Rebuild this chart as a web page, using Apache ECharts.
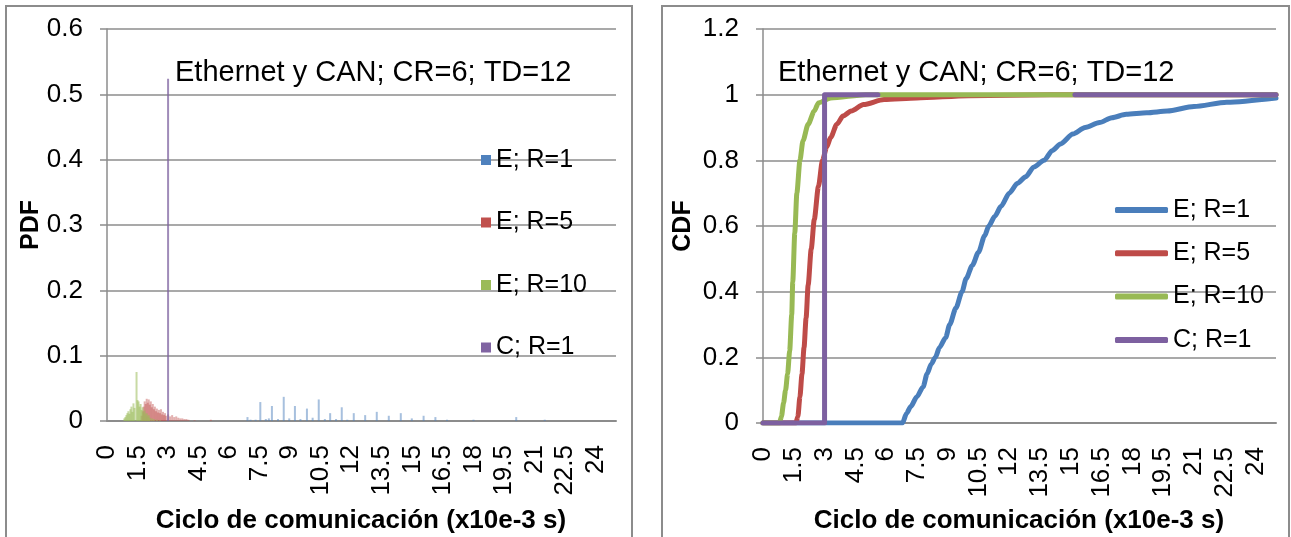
<!DOCTYPE html>
<html>
<head>
<meta charset="utf-8">
<script src="https://cdn.jsdelivr.net/npm/echarts@6/dist/echarts.min.js"></script>
<style>
  html, body { margin: 0; padding: 0; background: #ffffff; }
  #chart { width: 1291px; height: 537px; }
</style>
</head>
<body>
<div id="chart"></div>
<script>
// Series names shared by both panels
const seriesNames = ['E; R=1', 'E; R=5', 'E; R=10', 'C; R=1'];

// Communication-cycle axis (x10e-3 s)
const xMin = 0;
const xMax = 25;
const xStep = 1.5;

// PDF axis and CDF axis
const pdfMax = 0.6, pdfStep = 0.1;
const cdfMax = 1.2, cdfStep = 0.2;

// PDF histograms: [cycle, probability]
const pdfE1 = [
  [6.9, 0.006], [7.05, 0.002], [7.3, 0.002], [7.53, 0.029], [7.8, 0.003], [7.95, 0.004],
  [8.1, 0.023], [8.4, 0.003], [8.68, 0.037], [8.95, 0.004], [9.23, 0.023], [9.5, 0.003],
  [9.82, 0.019], [10.1, 0.005], [10.4, 0.033], [10.7, 0.003], [10.96, 0.012], [11.25, 0.003],
  [11.53, 0.021], [11.8, 0.002], [12.12, 0.012], [12.68, 0.009], [13.25, 0.014], [13.84, 0.008],
  [14.43, 0.012], [14.97, 0.004], [15.55, 0.008], [16.13, 0.006], [16.7, 0.002], [18.0, 0.002],
  [20.1, 0.006], [21.5, 0.002]
];
const pdfE5 = [
  [1.7, 0.008], [1.75, 0.015], [1.8, 0.022], [1.85, 0.030], [1.9, 0.026], [1.95, 0.034],
  [2.0, 0.028], [2.05, 0.033], [2.1, 0.025], [2.15, 0.030], [2.2, 0.021], [2.25, 0.026],
  [2.3, 0.018], [2.35, 0.022], [2.4, 0.015], [2.45, 0.019], [2.5, 0.013], [2.55, 0.017],
  [2.6, 0.012], [2.65, 0.018], [2.7, 0.010], [2.75, 0.014], [2.8, 0.009], [2.85, 0.012],
  [2.9, 0.008], [3.0, 0.010], [3.1, 0.007], [3.2, 0.009], [3.3, 0.006], [3.4, 0.007],
  [3.5, 0.005], [3.6, 0.004], [3.7, 0.004], [3.8, 0.003], [3.9, 0.003], [4.0, 0.002],
  [4.3, 0.001], [5.1, 0.002]
];
const pdfE10 = [
  [0.85, 0.004], [0.9, 0.006], [0.95, 0.009], [1.0, 0.012], [1.05, 0.015], [1.1, 0.011],
  [1.15, 0.018], [1.2, 0.022], [1.25, 0.014], [1.3, 0.027], [1.35, 0.020], [1.45, 0.075],
  [1.5, 0.032], [1.55, 0.030], [1.6, 0.022], [1.65, 0.026], [1.7, 0.017], [1.75, 0.021],
  [1.8, 0.013], [1.85, 0.016], [1.9, 0.010], [1.95, 0.012], [2.0, 0.007], [2.05, 0.009],
  [2.1, 0.005], [2.2, 0.004], [2.3, 0.003], [2.45, 0.002], [2.6, 0.001]
];
const pdfC1 = [
  [3.0, 0.524]
];

// CDF curves: [cycle, cumulative probability]
const cdfE1 = [
  [0, 0], [6.8, 0], [7.0, 0.03], [7.2, 0.05], [7.5, 0.08], [7.8, 0.11], [8.0, 0.15],
  [8.2, 0.18], [8.4, 0.20], [8.6, 0.23], [8.9, 0.26], [9.1, 0.30], [9.4, 0.35], [9.7, 0.40],
  [9.9, 0.44], [10.2, 0.48], [10.5, 0.52], [10.8, 0.57], [11.0, 0.60], [11.3, 0.63],
  [11.6, 0.66], [12.0, 0.70], [12.4, 0.73], [12.8, 0.75], [13.2, 0.78], [13.7, 0.80],
  [14.1, 0.83], [14.5, 0.85], [15.1, 0.88], [15.7, 0.90], [16.4, 0.915], [17.0, 0.93],
  [17.7, 0.94], [18.7, 0.945], [19.7, 0.95], [21.0, 0.964], [22.6, 0.977], [25, 0.99]
];
const cdfE5 = [
  [0, 0], [1.6, 0], [1.7, 0.02], [1.8, 0.08], [1.9, 0.15], [2.0, 0.23], [2.1, 0.32],
  [2.2, 0.42], [2.35, 0.53], [2.5, 0.62], [2.7, 0.72], [2.9, 0.80], [3.1, 0.84],
  [3.3, 0.87], [3.6, 0.91], [3.9, 0.935], [4.3, 0.95], [4.9, 0.97], [5.9, 0.985],
  [7.5, 0.99], [10, 0.997], [14, 1], [25, 1]
];
const cdfE10 = [
  [0, 0], [0.8, 0], [0.9, 0.02], [1.0, 0.06], [1.1, 0.10], [1.2, 0.15], [1.3, 0.22],
  [1.4, 0.33], [1.45, 0.43], [1.55, 0.58], [1.65, 0.70], [1.8, 0.80], [1.95, 0.86],
  [2.2, 0.91], [2.5, 0.95], [2.7, 0.975], [3.3, 0.99], [5, 1], [25, 1]
];
const cdfC1 = [
  [0, 0], [3, 0], [3, 1], [5.6, 1], [10, null], [15.2, 1], [25, 1]
];

const annotation = 'Ethernet y CAN; CR=6; TD=12';
const xTitle = 'Ciclo de comunicación (x10e-3 s)';

const FONT = '"Liberation Sans", Arial, sans-serif';
const lineColors = ['#4A7EBB', '#BE4B48', '#98B954', '#7D60A0'];
const barColors = ['rgba(79,129,189,0.5)', 'rgba(192,80,77,0.45)', 'rgba(155,187,89,0.55)', 'rgba(128,100,162,0.75)'];
const squareColors = ['#4F81BD', '#C0504D', '#9BBB59', '#8064A2'];
const gridGray = '#8c8c8c';

function xAxisFor(gridIndex) {
  return {
    type: 'value', gridIndex, min: xMin, max: xMax, interval: xStep,
    axisLine: { show: true, onZero: false, lineStyle: { color: gridGray, width: 2 } },
    axisTick: { show: false },
    splitLine: { show: false },
    axisLabel: {
      rotate: 90, margin: 24, showMaxLabel: false,
      fontFamily: FONT, fontSize: 26, color: '#000'
    }
  };
}
function yAxisFor(gridIndex, max, step) {
  return {
    type: 'value', gridIndex, min: 0, max, interval: step,
    axisLine: { show: true, lineStyle: { color: gridGray, width: 1.5 } },
    axisTick: { show: true, length: 7, inside: false, lineStyle: { color: gridGray, width: 1.5 } },
    splitLine: { show: true, lineStyle: { color: gridGray, width: 1.5 } },
    axisLabel: { margin: 24, fontFamily: FONT, fontSize: 26, color: '#000' }
  };
}

const pdfData = [pdfE1, pdfE5, pdfE10, pdfC1];
const cdfData = [cdfE1, cdfE5, cdfE10, cdfC1];

const barSeries = pdfData.map((d, i) => ({
  name: seriesNames[i], type: 'bar', xAxisIndex: 0, yAxisIndex: 0,
  data: d, barWidth: 2, barGap: '-100%',
  itemStyle: { color: barColors[i] }, silent: true, animation: false
}));
const lineSeries = cdfData.map((d, i) => ({
  name: seriesNames[i], type: 'line', xAxisIndex: 1, yAxisIndex: 1,
  data: d, showSymbol: false, connectNulls: false,
  smooth: i === 3 ? false : 0.25, smoothMonotone: 'x',
  lineStyle: { color: lineColors[i], width: 5, cap: 'round', join: 'round' },
  itemStyle: { color: lineColors[i] }, silent: true, animation: false
}));

const chart = echarts.init(document.getElementById('chart'), null, { renderer: 'canvas' });
chart.setOption({
  backgroundColor: '#ffffff',
  animation: false,
  grid: [
    { left: 107, top: 29, width: 509, height: 392 },
    { left: 763, top: 29, width: 513, height: 394 }
  ],
  xAxis: [xAxisFor(0), xAxisFor(1)],
  yAxis: [yAxisFor(0, pdfMax, pdfStep), yAxisFor(1, cdfMax, cdfStep)],
  legend: [
    {
      orient: 'vertical', left: 476, top: 140, itemWidth: 10, itemHeight: 10,
      itemGap: 32.5, selectedMode: false, icon: 'rect',
      textStyle: { fontFamily: FONT, fontSize: 25, color: '#000', lineHeight: 30 },
      data: seriesNames.map((n, i) => ({ name: n, icon: 'rect', itemStyle: { color: squareColors[i] } }))
    },
    {
      orient: 'vertical', left: 1110, top: 190, itemWidth: 53, itemHeight: 6,
      itemGap: 13.3, selectedMode: false,
      textStyle: { fontFamily: FONT, fontSize: 25, color: '#000', lineHeight: 30 },
      data: seriesNames.map((n, i) => ({ name: n, icon: 'roundRect', itemStyle: { color: lineColors[i] } }))
    }
  ],
  graphic: [
    { type: 'rect', shape: { x: 6, y: 6, width: 626, height: 560 }, style: { fill: 'none', stroke: gridGray, lineWidth: 2 }, z: -1 },
    { type: 'rect', shape: { x: 662, y: 6, width: 627, height: 560 }, style: { fill: 'none', stroke: gridGray, lineWidth: 2 }, z: -1 },
    { type: 'text', x: 175, y: 73, style: { text: annotation, font: '29px ' + FONT, fill: '#000', align: 'left', verticalAlign: 'middle' }, z: 10 },
    { type: 'text', x: 778, y: 73, style: { text: annotation, font: '29px ' + FONT, fill: '#000', align: 'left', verticalAlign: 'middle' }, z: 10 },
    { type: 'text', x: 361, y: 521, style: { text: xTitle, font: 'bold 26px ' + FONT, fill: '#000', align: 'center', verticalAlign: 'middle' } },
    { type: 'text', x: 1019, y: 521, style: { text: xTitle, font: 'bold 26px ' + FONT, fill: '#000', align: 'center', verticalAlign: 'middle' } },
    { type: 'text', x: 31, y: 225, rotation: Math.PI / 2, style: { text: 'PDF', font: 'bold 25px ' + FONT, fill: '#000', align: 'center', verticalAlign: 'middle' } },
    { type: 'text', x: 683, y: 226, rotation: Math.PI / 2, style: { text: 'CDF', font: 'bold 25px ' + FONT, fill: '#000', align: 'center', verticalAlign: 'middle' } }
  ],
  series: barSeries.concat(lineSeries)
});
</script>
</body>
</html>
